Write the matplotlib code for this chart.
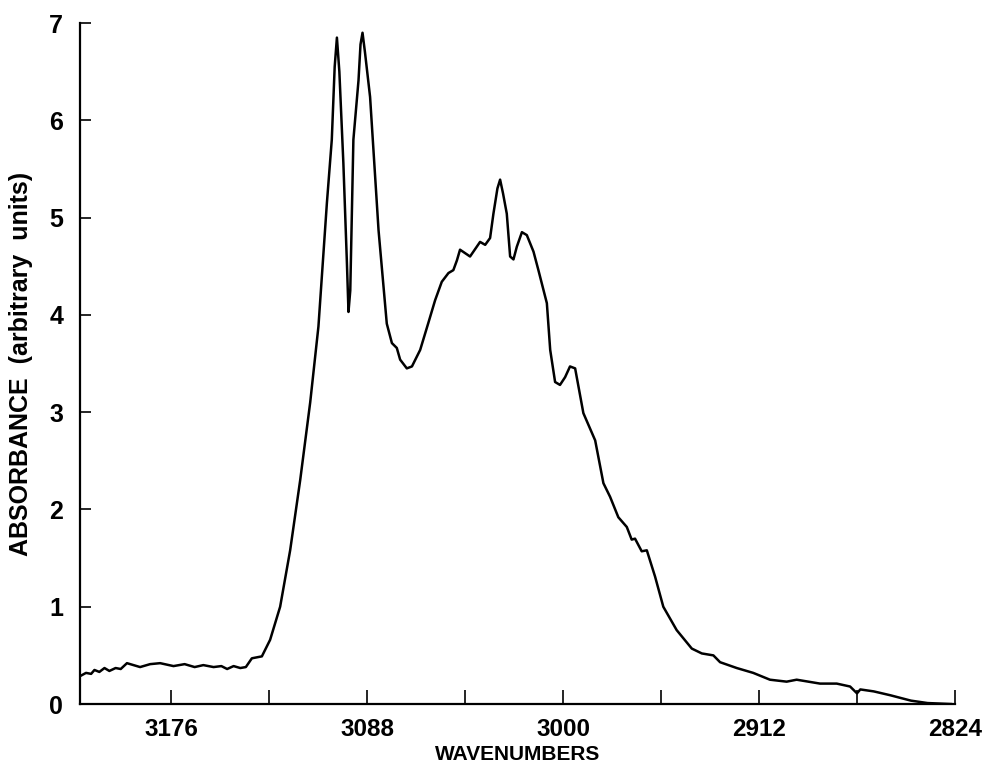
import matplotlib.pyplot as plt
from matplotlib.ticker import FixedLocator

# IR absorbance spectrum, C-H stretch region
wavenumber = [3217.5, 3214.3, 3212.0, 3210.5, 3208.3, 3206.0, 3203.8, 3201.0, 3198.7,
              3195.9, 3190.0, 3185.5, 3181.0, 3175.0, 3170.0, 3165.5, 3161.6, 3157.0,
              3153.5, 3150.9, 3148.0, 3145.0, 3142.5, 3139.8, 3135.3, 3131.6, 3127.1,
              3122.6, 3118.1, 3113.6, 3109.9, 3106.1, 3103.9, 3102.6, 3101.6, 3100.5,
              3098.7, 3097.1, 3096.4, 3095.6, 3094.2, 3091.9, 3091.0, 3090.1, 3089.0,
              3086.7, 3082.9, 3079.2, 3076.9,
              3074.7, 3073.2, 3070.2, 3067.9, 3064.2, 3060.5, 3057.5, 3054.5, 3051.5,
              3049.3, 3047.7, 3046.3, 3041.8, 3037.3, 3035.0, 3032.8, 3031.3, 3029.5,
              3028.3, 3027.0,
              3025.3, 3023.8, 3022.3, 3020.8, 3018.5, 3016.3, 3013.3, 3011.1, 3007.3,
              3005.8, 3003.6, 3001.4, 2999.1, 2996.9, 2994.6, 2990.9, 2985.6, 2981.9,
              2978.9, 2975.2, 2971.4, 2969.2, 2967.7, 2964.7, 2962.4, 2958.7, 2955.0,
              2949.0, 2942.2, 2937.7, 2932.5, 2929.5, 2922.0, 2914.6, 2907.1, 2899.6,
              2895.1, 2884.6, 2877.1, 2871.1, 2868.0, 2866.5, 2860.5, 2853.0, 2843.8,
              2836.3, 2825.8]
absorbance = [0.28, 0.32, 0.31, 0.35, 0.33, 0.37, 0.34, 0.37, 0.36,
              0.42, 0.38, 0.41, 0.42, 0.39, 0.41, 0.38, 0.40, 0.38,
              0.39, 0.36, 0.39, 0.37, 0.38, 0.47, 0.49, 0.66, 1.00,
              1.58, 2.30, 3.10, 3.88, 5.15, 5.80, 6.55, 6.85, 6.50,
              5.56, 4.53, 4.03, 4.25, 5.80, 6.41, 6.78, 6.90, 6.70,
              6.24, 4.87, 3.91, 3.71,
              3.66, 3.54, 3.45, 3.47, 3.64, 3.92, 4.15, 4.34, 4.43,
              4.46, 4.56, 4.67, 4.60, 4.75, 4.72, 4.79, 5.04, 5.30,
              5.39, 5.25,
              5.04, 4.60, 4.57, 4.70, 4.85, 4.82, 4.65, 4.46, 4.12,
              3.64, 3.31, 3.28, 3.36, 3.47, 3.45, 2.99, 2.71, 2.27,
              2.13, 1.92, 1.82, 1.69, 1.70, 1.57, 1.58, 1.31, 1.00,
              0.76, 0.57, 0.52, 0.50, 0.43, 0.37, 0.32, 0.25, 0.23,
              0.25, 0.21, 0.21, 0.18, 0.11, 0.15, 0.13, 0.09, 0.035,
              0.01, 0.0]

major_ticks = [3176, 3088, 3000, 2912, 2824]
minor_ticks = [3132, 3044, 2956, 2868]

plt.rcParams['font.family'] = ['Liberation Sans', 'DejaVu Sans']
plt.rcParams['font.weight'] = 'bold'

fig = plt.figure(figsize=(9.85, 7.67), dpi=100)
ax = fig.add_axes([0.0812, 0.0821, 0.8883, 0.8879])

ax.plot(wavenumber, absorbance, color='black', linewidth=1.8,
        solid_joinstyle='round')

ax.set_xlim(3217, 2824)
ax.set_ylim(0, 7)

ax.spines['top'].set_visible(False)
ax.spines['right'].set_visible(False)
ax.spines['left'].set_linewidth(1.6)
ax.spines['bottom'].set_linewidth(1.6)

ax.xaxis.set_major_locator(FixedLocator(major_ticks))
ax.xaxis.set_minor_locator(FixedLocator(minor_ticks))
ax.set_yticks(range(0, 8))

ax.tick_params(axis='x', which='both', direction='in', length=10, width=1.2,
               labelsize=17.5, pad=10)
ax.tick_params(axis='y', direction='in', length=8, width=1.2,
               labelsize=18, pad=12)

ax.set_xlabel('WAVENUMBERS', fontsize=15, fontweight='bold', labelpad=3)
ax.set_ylabel('ABSORBANCE  (arbitrary  units)', fontsize=18, fontweight='bold',
              labelpad=12)

fig.savefig('out.png', dpi=100)
